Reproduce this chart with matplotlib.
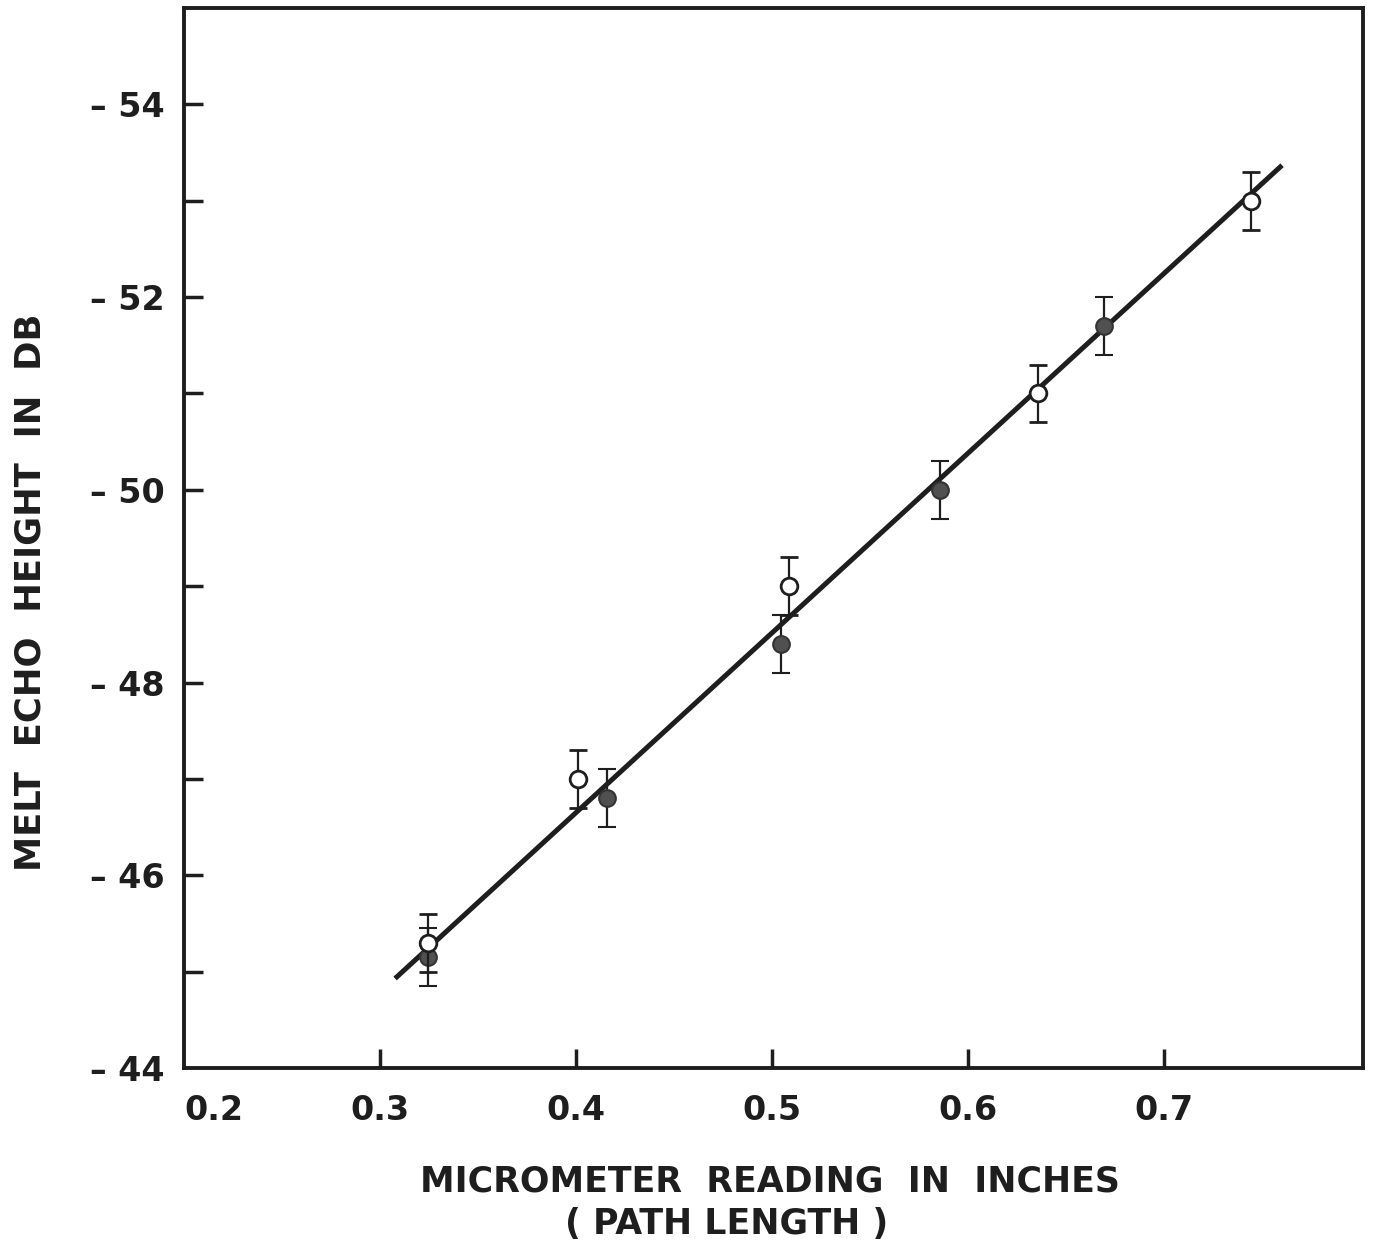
import matplotlib.pyplot as plt
import numpy as np

# Echo height readings (dB) against micrometer setting (inches)
open_x = [0.3245, 0.401, 0.5087, 0.6357, 0.7444]
open_y = [-45.3, -47.0, -49.0, -51.0, -53.0]
filled_x = [0.3245, 0.416, 0.5046, 0.5857, 0.6694]
filled_y = [-45.15, -46.8, -48.4, -50.0, -51.7]
err = 0.3

# straight line drawn through the points
line_x = [0.3077, 0.7602]
line_slope = -18.65
line_icpt = -39.19

y_ticks = [-54, -53, -52, -51, -50, -49, -48, -47, -46, -45, -44]
y_labels = ["\u2013 54", "", "\u2013 52", "", "\u2013 50", "", "\u2013 48", "", "\u2013 46", "", "\u2013 44"]
x_ticks = [0.2, 0.3, 0.4, 0.5, 0.6, 0.7]
x_labels = ["0.2", "0.3", "0.4", "0.5", "0.6", "0.7"]

plt.rcParams['font.family'] = ['DejaVu Sans']
ink = '#1e1e1e'

fig = plt.figure(figsize=(13.74, 12.43), dpi=100)
ax = fig.add_axes([0.1339, 0.1408, 0.8581, 0.8528])

lx = np.array(line_x)
ax.plot(lx, line_icpt + line_slope * lx, color=ink, lw=3.6, solid_capstyle='butt', zorder=2)

ax.errorbar(filled_x, filled_y, yerr=err, fmt='o', ms=12, mfc='#505050', mec='#333333',
            mew=1.5, ecolor=ink, elinewidth=1.6, capsize=6.5, capthick=2.2, zorder=3)
ax.errorbar(open_x, open_y, yerr=err, fmt='o', ms=12, mfc='white', mec=ink,
            mew=2.0, ecolor=ink, elinewidth=1.6, capsize=6.5, capthick=2.2, zorder=4)

ax.set_xlim(0.2, 0.8015)
ax.set_ylim(-44, -55)

ax.set_yticks(y_ticks)
ax.set_yticklabels(y_labels)
ax.set_xticks(x_ticks)
ax.set_xticklabels(x_labels)
ax.tick_params(direction='in', length=14, width=2.5, color=ink, labelsize=24,
               labelcolor=ink)
ax.tick_params(axis='y', pad=14)
ax.tick_params(axis='x', pad=19)
for lab in ax.get_xticklabels() + ax.get_yticklabels():
    lab.set_fontweight('bold')
ax.get_xticklabels()[0].set_horizontalalignment('left')

# no tick marks in the corner (0.2 and -44 sit on the frame)
ax.xaxis.get_major_ticks()[0].tick1line.set_visible(False)
ax.yaxis.get_major_ticks()[-1].tick1line.set_visible(False)

for s in ax.spines.values():
    s.set_linewidth(2.8)
    s.set_color(ink)

fig.text(0.5604, 0.0628, "MICROMETER  READING  IN  INCHES", ha='center',
         va='top', fontsize=25, fontweight='bold', color=ink)
fig.text(0.529, 0.0290, "( PATH LENGTH )", ha='center',
         va='top', fontsize=25, fontweight='bold', color=ink)
fig.text(0.022, 0.5237, "MELT  ECHO  HEIGHT  IN  DB", rotation=90, ha='center',
         va='center', fontsize=25.5, fontweight='bold', color=ink)

fig.savefig('out.png', dpi=100, facecolor='white')
